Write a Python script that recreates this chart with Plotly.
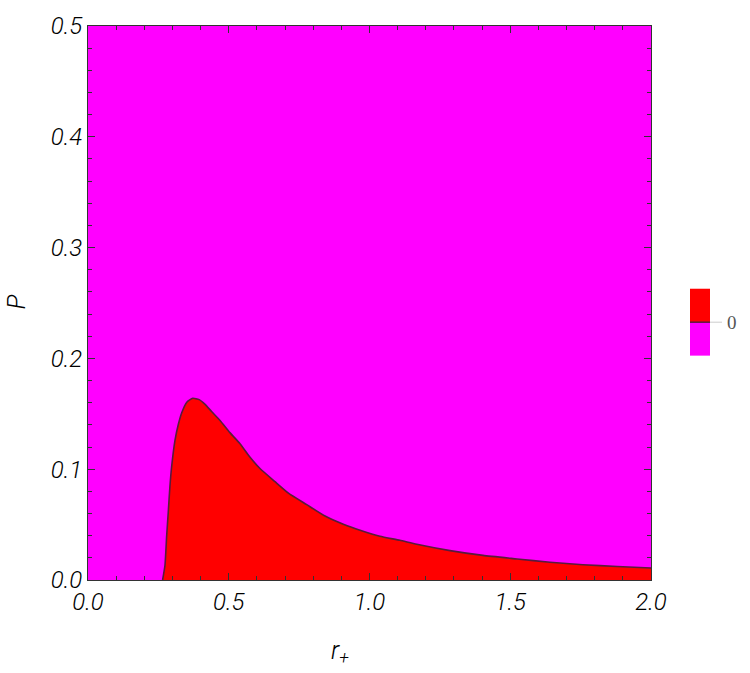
import plotly.graph_objects as go

# boundary curve of the red region (r_+, P)
r_vals = [0.265, 0.2735, 0.2795, 0.285, 0.291, 0.297, 0.309, 0.321, 0.333, 0.351, 0.372, 0.395,
          0.416, 0.439, 0.469, 0.504, 0.540, 0.575, 0.611, 0.664, 0.712, 0.777, 0.842, 0.907,
          0.972, 1.037, 1.108, 1.168, 1.286, 1.403, 1.524, 1.641, 1.758, 1.880, 2.000]
p_vals = [0.000, 0.0133, 0.040, 0.0607, 0.0844, 0.102, 0.126, 0.1406, 0.151, 0.1605, 0.1640, 0.1628,
          0.1585, 0.152, 0.144, 0.133, 0.123, 0.111, 0.1006, 0.0888, 0.0784, 0.068, 0.0577, 0.0503,
          0.0444, 0.0395, 0.0358, 0.0322, 0.0265, 0.0222, 0.0190, 0.0160, 0.0138, 0.0122, 0.0108]

x_ticks = [0.0, 0.5, 1.0, 1.5, 2.0]
y_ticks = [0.0, 0.1, 0.2, 0.3, 0.4, 0.5]
legend_label = "0"

RED = "#FF0000"
MAGENTA = "#FF00FF"
EDGE = "#5A1A3C"

fig = go.Figure()
fig.add_trace(go.Scatter(
    x=r_vals, y=p_vals, mode="lines", fill="tozeroy", fillcolor=RED,
    line=dict(width=1.6, color=EDGE, shape="spline", smoothing=0.5),
    hoverinfo="skip", showlegend=False))

L, R, T, B = 88, 99, 17, 93
W, H = 750, 673
pw, ph = W - L - R, H - T - B

def px(x):
    return (x - L) / pw

def py(y):
    return (H - B - y) / ph

tickfont = dict(family="Roboto", size=24, color="black", style="italic", weight=300)
axis_common = dict(
    showgrid=False, zeroline=False, showline=True, linecolor="#333333", linewidth=1,
    mirror="ticks", ticks="inside", ticklen=7, tickcolor="#333333", tickwidth=1,
    tickfont=tickfont,
)
fig.update_xaxes(range=[0, 2], tickvals=x_ticks, ticktext=[f"{v:.1f}" for v in x_ticks],
                 minor=dict(dtick=0.1, ticks="inside", ticklen=4, tickcolor="#333333"),
                 **axis_common)
fig.update_yaxes(range=[0, 0.5], tickvals=y_ticks, ticktext=[f"{v:.1f}" for v in y_ticks],
                 minor=dict(dtick=0.02, ticks="inside", ticklen=4, tickcolor="#333333"),
                 **axis_common)

shapes = [
    dict(type="rect", xref="paper", yref="paper", x0=px(690), x1=px(710), y0=py(318), y1=py(284),
         fillcolor=RED, line=dict(width=0)),
    dict(type="rect", xref="paper", yref="paper", x0=px(690), x1=px(710), y0=py(352), y1=py(318),
         fillcolor=MAGENTA, line=dict(width=0)),
    dict(type="line", xref="paper", yref="paper", x0=px(690), x1=px(710), y0=py(318), y1=py(318),
         line=dict(color=EDGE, width=1.5)),
    dict(type="line", xref="paper", yref="paper", x0=px(710), x1=px(722), y0=py(318), y1=py(318),
         line=dict(color="#CCCCCC", width=1)),
]
annotations = [
    dict(text=legend_label, xref="paper", yref="paper", x=px(725), y=py(318), xanchor="left",
         yanchor="middle", showarrow=False,
         font=dict(family="Liberation Serif", size=19, color="#555555")),
    dict(text="P", xref="paper", yref="paper", x=px(17), y=py(298), textangle=-90,
         xanchor="center", yanchor="middle", showarrow=False,
         font=dict(family="Roboto", size=25, color="black", style="italic", weight=300)),
    dict(text="r<sub>+</sub>", xref="paper", yref="paper", x=px(340), y=py(653),
         xanchor="center", yanchor="middle", showarrow=False,
         font=dict(family="Roboto", size=25, color="black", style="italic", weight=300)),
]

fig.update_layout(
    width=W, height=H, margin=dict(l=L, r=R, t=T, b=B),
    plot_bgcolor=MAGENTA, paper_bgcolor="white",
    shapes=shapes, annotations=annotations, showlegend=False,
)
fig.write_html("out.html")
